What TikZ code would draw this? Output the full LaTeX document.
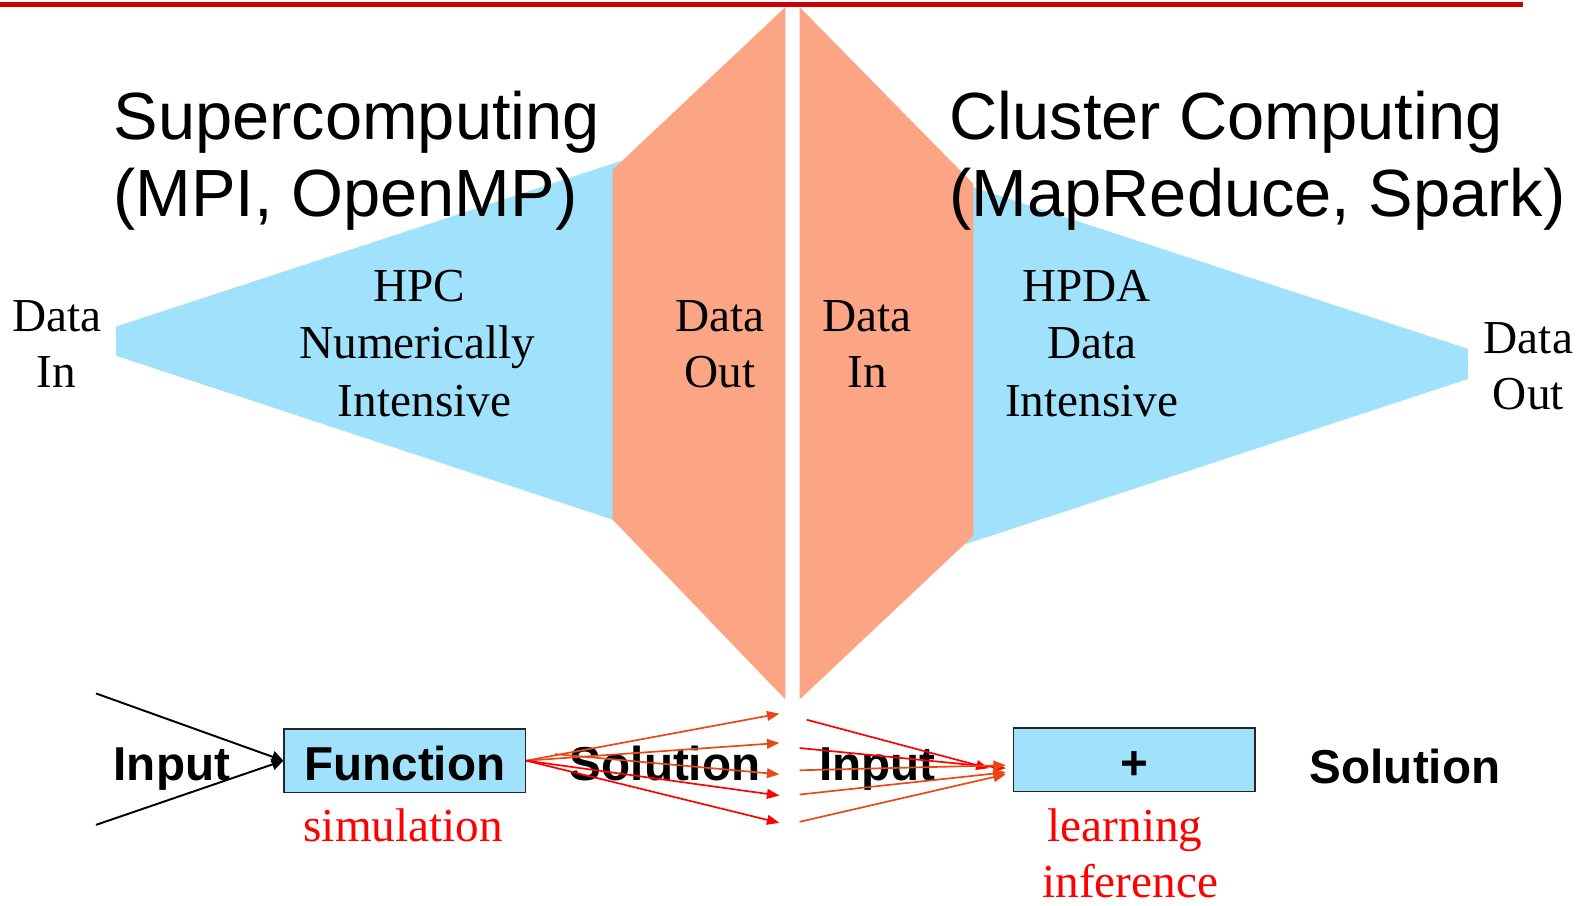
\documentclass[tikz,border=0pt]{standalone}
\usepackage{fontspec}
\setmainfont{Liberation Serif}
\setsansfont{Liberation Sans}
\usetikzlibrary{arrows.meta}
\definecolor{skyb}{RGB}{160,225,252}
\definecolor{salmonc}{RGB}{252,165,133}
\definecolor{topred}{RGB}{204,0,0}
\definecolor{orng}{RGB}{232,72,24}
\definecolor{brightred}{RGB}{255,0,0}
\begin{document}
\begin{tikzpicture}[x=0.02cm,y=-0.02cm,
  titletxt/.style={font=\sffamily\fontsize{37.6}{44}\selectfont, anchor=base west, inner sep=0pt},
  sertxt/.style={font=\fontsize{26.6}{31}\selectfont, anchor=base, inner sep=0pt},
  boldtxt/.style={font=\sffamily\bfseries\fontsize{26.8}{31}\selectfont, anchor=base, inner sep=0pt},
  redtxt/.style={sertxt, text=brightred},
  procbox/.style={draw=black!85, line width=0.8pt, fill=skyb, minimum width=4.78cm, minimum height=1.26cm, inner sep=0pt, text height=22pt, text depth=0pt, font=\sffamily\bfseries\fontsize{26.8}{31}\selectfont},
  inarrow/.style={line width=1.1pt, -{Triangle[length=6.5pt,width=6.5pt]}},
  fanred/.style={draw=brightred, line width=0.95pt, -{Triangle[length=7pt,width=5.5pt]}},
  fanorg/.style={fanred, draw=orng}
]
\useasboundingbox (0,0) rectangle (1568,896);

% top rule
\draw[topred, line width=2.8pt] (0,4) -- (1507,4);

% blue funnels
\fill[skyb] (115,323) -- (615,159) -- (615,517) -- (115,352) -- cycle;
\fill[skyb] (950,181) -- (1452,345) -- (1452,375) -- (950,540) -- cycle;
% salmon halves
\fill[salmonc] (606,168) -- (777,7) -- (777,692) -- (606,514) -- cycle;
\fill[salmonc] (791,7) -- (963,182) -- (963,530) -- (791,692) -- cycle;

% titles
\node[titletxt] (t1a) at (112,138) {Supercomputing};
\node[titletxt] (t1b) at (112,214) {(MPI, OpenMP)};
\node[titletxt] (t2a) at (939,138) {Cluster Computing};
\node[titletxt] (t2b) at (939,214) {(MapReduce, Spark)};

% serif labels
\node[sertxt] (din1a) at (56,328) {Data};
\node[sertxt] (din1b) at (56,383) {In};
\node[sertxt] (hpc1) at (415,298) {HPC};
\node[sertxt] (hpc2) at (413,355) {Numerically};
\node[sertxt] (hpc3) at (420,412) {Intensive};
\node[sertxt] (dout1a) at (712,328) {Data};
\node[sertxt] (dout1b) at (712,383) {Out};
\node[sertxt] (din2a) at (858,328) {Data};
\node[sertxt] (din2b) at (858,383) {In};
\node[sertxt] (hpda1) at (1075,298) {HPDA};
\node[sertxt] (hpda2) at (1080,355) {Data};
\node[sertxt] (hpda3) at (1080,412) {Intensive};
\node[sertxt] (dout2a) at (1512,350) {Data};
\node[sertxt] (dout2b) at (1512,405) {Out};

% bottom row
\node[boldtxt] (in1) at (170,772) {Input};
\node[procbox] (fn) at (400.5,752.5) {Function};
\node[boldtxt] (sol1) at (658,772) {Solution};
\node[boldtxt] (in2) at (868,772) {Input};
\node[procbox] (plus) at (1122,751.5) {+};
\node[boldtxt] (sol2) at (1390,775) {Solution};
\node[redtxt] (sim) at (399,832) {simulation};
\node[redtxt] (learn) at (1113,832) {learning};
\node[redtxt] (infer) at (1118,888) {inference};

% input lines
\coordinate (ia) at (95,686);
\coordinate (ib) at (95,816);
\draw[inarrow] (ia) -- (fn.west);
\draw[inarrow] (ib) -- (fn.west);

% left fan
\coordinate (l1) at (771,706);
\coordinate (l2) at (771,735);
\coordinate (l3) at (771,766);
\coordinate (l4) at (771,787);
\coordinate (l5) at (771,814);
\coordinate (l3s) at (549,746);
\draw[fanorg] (fn.east) -- (l1);
\draw[fanorg] (fn.east) -- (l2);
\draw[fanorg] (l3s) -- (l3);
\draw[fanred] (fn.east) -- (l4);
\draw[fanred] (fn.east) -- (l5);

% right fan
\coordinate (r1) at (798,712);
\coordinate (r2) at (791,740);
\coordinate (r3) at (791,762);
\coordinate (r4) at (791,786);
\coordinate (r5) at (791,813);
\coordinate (e1) at (978,760);
\coordinate (e2) at (995,760);
\coordinate (e3) at (995,757);
\coordinate (e4) at (995,764);
\coordinate (e5) at (995,766);
\draw[fanred] (r1) -- (e1);
\draw[fanred] (r2) -- (e2);
\draw[fanorg] (r3) -- (e3);
\draw[fanorg] (r4) -- (e4);
\draw[fanorg] (r5) -- (e5);
\end{tikzpicture}
\end{document}
